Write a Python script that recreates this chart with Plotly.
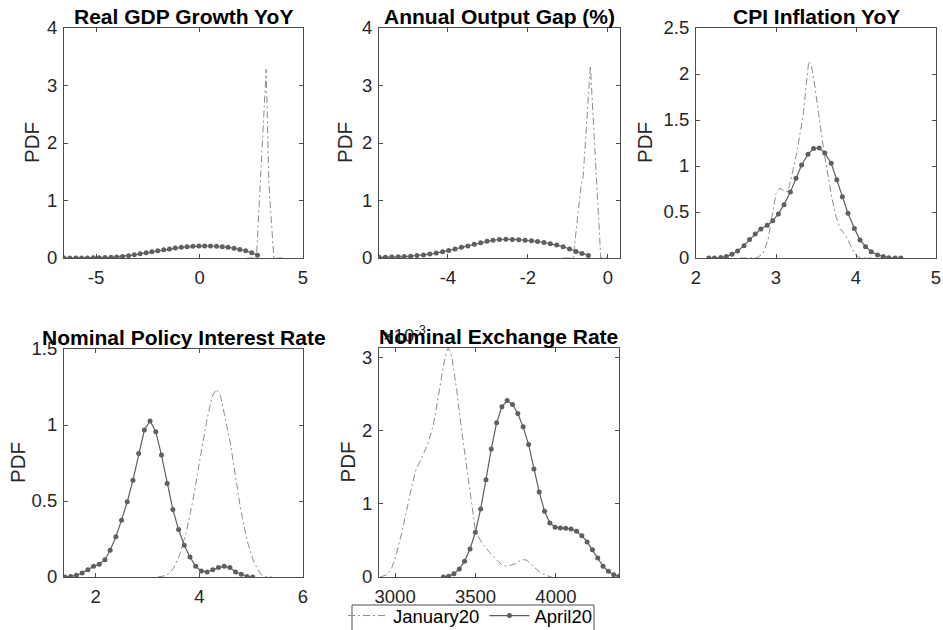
import plotly.graph_objects as go

# ---------------- data: kernel density estimates ----------------
# Real GDP growth YoY
gdp_x_apr = [-6.55, -6.27, -5.98, -5.70, -5.42, -5.13, -4.85, -4.57, -4.28, -4.00, -3.72, -3.43,
             -3.15, -2.87, -2.58, -2.30, -2.02, -1.73, -1.45, -1.17, -0.88, -0.60, -0.32, -0.03,
             0.25, 0.53, 0.82, 1.10, 1.38, 1.67, 1.95, 2.23, 2.52, 2.80]
gdp_y_apr = [0.0, 0.0, 0.0, 0.0, 0.0, 0.003, 0.005, 0.008, 0.012, 0.018, 0.028, 0.040,
             0.055, 0.073, 0.090, 0.108, 0.125, 0.143, 0.158, 0.172, 0.185, 0.195, 0.203, 0.208,
             0.210, 0.209, 0.205, 0.197, 0.186, 0.170, 0.150, 0.125, 0.092, 0.050]
gdp_x_jan = [2.30, 2.75, 3.22, 3.35, 3.59, 4.00]
gdp_y_jan = [0.0, 0.0, 3.28, 1.30, 0.0, 0.0]

# Annual output gap (%)
og_x_apr = [-5.72, -5.56, -5.40, -5.24, -5.09, -4.93, -4.77, -4.61, -4.45, -4.29, -4.13, -3.98,
            -3.82, -3.66, -3.50, -3.34, -3.18, -3.02, -2.87, -2.71, -2.55, -2.39, -2.23, -2.07,
            -1.91, -1.76, -1.60, -1.44, -1.28, -1.12, -0.96, -0.80, -0.65, -0.49]
og_y_apr = [0.012, 0.013, 0.016, 0.020, 0.025, 0.032, 0.042, 0.054, 0.068, 0.085, 0.107, 0.130,
            0.157, 0.185, 0.210, 0.240, 0.265, 0.290, 0.310, 0.322, 0.325, 0.323, 0.318, 0.310,
            0.300, 0.287, 0.270, 0.250, 0.225, 0.195, 0.155, 0.115, 0.080, 0.045]
og_x_jan = [-1.12, -0.87, -0.67, -0.62, -0.44, -0.18, 0.05]
og_y_jan = [0.0, 0.0, 1.27, 1.42, 3.34, 0.0, 0.0]

# CPI inflation YoY
cpi_x_apr = [2.16, 2.23, 2.31, 2.38, 2.45, 2.52, 2.60, 2.67, 2.74, 2.81, 2.89, 2.96,
             3.03, 3.10, 3.18, 3.25, 3.32, 3.40, 3.47, 3.54, 3.61, 3.69, 3.76, 3.83,
             3.90, 3.98, 4.05, 4.12, 4.19, 4.27, 4.34, 4.41, 4.49, 4.56]
cpi_y_apr = [0.0, 0.0, 0.005, 0.015, 0.040, 0.076, 0.134, 0.200, 0.261, 0.315, 0.355, 0.406,
             0.478, 0.580, 0.717, 0.866, 1.011, 1.127, 1.190, 1.195, 1.140, 1.030, 0.850, 0.667,
             0.486, 0.322, 0.196, 0.123, 0.069, 0.033, 0.015, 0.004, 0.0, 0.0]
cpi_x_jan = [2.55, 2.76, 2.84, 2.90, 2.95, 3.00, 3.05, 3.10, 3.15, 3.20, 3.26, 3.30, 3.34, 3.38,
             3.41, 3.44, 3.48, 3.52, 3.56, 3.60, 3.65, 3.70, 3.75, 3.80, 3.85, 3.90, 3.95, 4.00,
             4.05, 4.20]
cpi_y_jan = [0.0, 0.0, 0.05, 0.20, 0.45, 0.70, 0.76, 0.73, 0.72, 0.90, 1.14, 1.35, 1.55, 1.90,
             2.14, 2.10, 1.90, 1.65, 1.40, 1.15, 0.90, 0.65, 0.45, 0.32, 0.27, 0.20, 0.10, 0.03,
             0.0, 0.0]

# Nominal policy interest rate
pol_x_apr = [1.41, 1.52, 1.63, 1.74, 1.85, 1.96, 2.07, 2.18, 2.28, 2.39, 2.50, 2.61,
             2.72, 2.83, 2.94, 3.05, 3.16, 3.27, 3.38, 3.49, 3.60, 3.71, 3.82, 3.93,
             4.04, 4.15, 4.26, 4.37, 4.48, 4.59, 4.70, 4.81, 4.92, 5.03]
pol_y_apr = [0.0, 0.004, 0.011, 0.026, 0.048, 0.070, 0.084, 0.114, 0.176, 0.264, 0.374, 0.495,
             0.637, 0.813, 0.967, 1.026, 0.956, 0.802, 0.615, 0.444, 0.312, 0.209, 0.132, 0.070,
             0.040, 0.033, 0.048, 0.062, 0.070, 0.062, 0.033, 0.018, 0.004, 0.0]
pol_x_jan = [3.20, 3.37, 3.50, 3.63, 3.76, 3.89, 4.02, 4.15, 4.25, 4.33, 4.41, 4.50, 4.60,
             4.70, 4.79, 4.92, 5.05, 5.18, 5.31, 5.40]
pol_y_jan = [0.0, 0.01, 0.055, 0.154, 0.31, 0.53, 0.79, 1.04, 1.19, 1.235, 1.19, 1.05, 0.88,
             0.66, 0.46, 0.24, 0.10, 0.02, 0.0, 0.0]

# Nominal exchange rate
fx_x_apr = [3300, 3333, 3366, 3399, 3432, 3466, 3499, 3532, 3565, 3598, 3631, 3664,
            3697, 3730, 3763, 3796, 3830, 3863, 3896, 3929, 3962, 3995, 4028, 4061,
            4094, 4128, 4161, 4194, 4227, 4260, 4293, 4326, 4359, 4392]
fx_y_apr = [0.0, 0.000009, 0.000046, 0.000109, 0.000214, 0.000383, 0.000611, 0.000930,
            0.001330, 0.001750, 0.002107, 0.002326, 0.002412, 0.002357, 0.002234, 0.002052,
            0.001810, 0.001477, 0.001163, 0.000898, 0.000739, 0.000679, 0.000670, 0.000666,
            0.000657, 0.000625, 0.000565, 0.000479, 0.000374, 0.000260, 0.000146, 0.000078,
            0.000032, 0.000009]
fx_x_jan = [2907, 2948, 2979, 3010, 3041, 3072, 3104, 3130, 3166, 3207, 3238, 3269, 3300, 3321,
            3331, 3352, 3383, 3414, 3445, 3476, 3500, 3538, 3590, 3642, 3673, 3704, 3745, 3787,
            3818, 3859, 3900, 3942, 3973]
fx_y_jan = [0.0, 0.00003, 0.00012, 0.00033, 0.00060, 0.00094, 0.00124, 0.00147, 0.00163,
            0.00184, 0.00208, 0.00247, 0.00288, 0.00309, 0.00313, 0.00302, 0.00256, 0.00200,
            0.00147, 0.00101, 0.00062, 0.00047, 0.00033, 0.00021, 0.000155, 0.00015, 0.00018,
            0.00024, 0.00023, 0.000146, 0.000064, 0.00002, 0.0]

titles = ["Real GDP Growth YoY", "Annual Output Gap (%)", "CPI Inflation YoY",
          "Nominal Policy Interest Rate", "Nominal Exchange Rate"]
series_names = ["January20", "April20"]

x_ranges = [[-6.55, 5], [-5.72, 0.3], [2, 5], [1.39, 6], [2900, 4392]]
y_ranges = [[0, 4], [0, 4], [0, 2.5], [0, 1.5], [0, 0.00313]]
x_ticks = [[-5, 0, 5], [-4, -2, 0], [2, 3, 4, 5], [2, 4, 6], [3000, 3500, 4000]]
x_ticktext = [["-5", "0", "5"], ["-4", "-2", "0"], ["2", "3", "4", "5"], ["2", "4", "6"],
              ["3000", "3500", "4000"]]
y_ticks = [[0, 1, 2, 3, 4], [0, 1, 2, 3, 4], [0, 0.5, 1, 1.5, 2, 2.5], [0, 0.5, 1, 1.5],
           [0, 0.001, 0.002, 0.003]]
y_ticktext = [["0", "1", "2", "3", "4"], ["0", "1", "2", "3", "4"],
              ["0", "0.5", "1", "1.5", "2", "2.5"], ["0", "0.5", "1", "1.5"],
              ["0", "1", "2", "3"]]

panels = [
    (gdp_x_jan, gdp_y_jan, gdp_x_apr, gdp_y_apr),
    (og_x_jan, og_y_jan, og_x_apr, og_y_apr),
    (cpi_x_jan, cpi_y_jan, cpi_x_apr, cpi_y_apr),
    (pol_x_jan, pol_y_jan, pol_x_apr, pol_y_apr),
    (fx_x_jan, fx_y_jan, fx_x_apr, fx_y_apr),
]

# ---------------- layout geometry (pixels) ----------------
W, H = 943, 630
boxes = [  # left, right, top, bottom
    (64, 303, 28, 258),
    (379, 620, 28, 258),
    (696, 936, 28, 258),
    (64, 303, 349, 577),
    (379, 619, 348, 577),
]
ylabel_x = [32, 345, 645, 17, 347]
legend_box = (352, 594, 605, 645)  # left, right, top, bottom

FONT = "Liberation Sans, Arial, Helvetica, sans-serif"
AX_COL = "#262626"
JAN_COL = "#8c8c8c"
APR_COL = "#5f5f5f"

fig = go.Figure()
annotations = []
layout_axes = {}

for i, (xj, yj, xa, ya) in enumerate(panels):
    n = i + 1
    xa_name = "x" if n == 1 else f"x{n}"
    ya_name = "y" if n == 1 else f"y{n}"
    fig.add_trace(go.Scatter(
        x=xj, y=yj, xaxis=xa_name, yaxis=ya_name, mode="lines",
        name=series_names[0], legendgroup="jan", showlegend=(n == 1),
        line=dict(color=JAN_COL, width=1, dash="7px,3px,2px,3px"),
    ))
    fig.add_trace(go.Scatter(
        x=xa, y=ya, xaxis=xa_name, yaxis=ya_name, mode="lines+markers",
        name=series_names[1], legendgroup="apr", showlegend=(n == 1),
        line=dict(color=APR_COL, width=1.2),
        marker=dict(symbol="circle", size=5, color=APR_COL),
    ))

    l, r, t, b = boxes[i]
    xd = [l / W, r / W]
    yd = [1 - b / H, 1 - t / H]
    common = dict(
        showline=True, linecolor="#4d4d4d", linewidth=1, mirror="allticks",
        ticks="inside", ticklen=4, tickcolor="#4d4d4d", showgrid=False, zeroline=False,
        tickfont=dict(family=FONT, size=18.5, color=AX_COL),
    )
    layout_axes[f"xaxis{'' if n == 1 else n}"] = dict(
        domain=xd, range=x_ranges[i], tickvals=x_ticks[i], ticktext=x_ticktext[i],
        anchor=ya_name, ticklabelstandoff=3, **common)
    layout_axes[f"yaxis{'' if n == 1 else n}"] = dict(
        domain=yd, range=y_ranges[i], tickvals=y_ticks[i], ticktext=y_ticktext[i],
        anchor=xa_name, ticklabelstandoff=2, **common)

    if n == 5:
        annotations.append(dict(
            text="×10<sup>-3</sup>", xref="paper", yref="paper", x=l / W, y=1 - t / H,
            xanchor="left", yanchor="bottom", showarrow=False, xshift=2,
            font=dict(family=FONT, size=18.5, color=AX_COL)))
    annotations.append(dict(
        text=f"<b>{titles[i]}</b>", xref="paper", yref="paper", x=(l + r) / 2 / W,
        y=1 - t / H, xanchor="center", yanchor="bottom", showarrow=False, yshift=-2,
        font=dict(family=FONT, size=21, color="#000000")))
    annotations.append(dict(
        text="PDF", xref="paper", yref="paper", x=ylabel_x[i] / W, y=1 - (t + b) / 2 / H,
        xanchor="center", yanchor="middle", textangle=-90, showarrow=False,
        font=dict(family=FONT, size=20.5, color=AX_COL)))

# legend frame drawn as a shape so the entries can sit close to its top edge
lb_l, lb_r, lb_t, lb_b = legend_box
shapes = [dict(type="rect", xref="paper", yref="paper",
               x0=lb_l / W, x1=lb_r / W, y0=1 - lb_b / H, y1=1 - lb_t / H,
               line=dict(color="#4d4d4d", width=1), fillcolor="white", layer="below")]

fig.update_layout(
    width=W, height=H,
    margin=dict(l=0, r=0, t=0, b=0, autoexpand=False),
    paper_bgcolor="white", plot_bgcolor="white",
    font=dict(family=FONT, color=AX_COL),
    annotations=annotations,
    shapes=shapes,
    legend=dict(
        orientation="h", x=(lb_l + lb_r - 6) / 2 / W, xanchor="center", y=1 - 597 / H,
        yanchor="top", bgcolor="rgba(0,0,0,0)", borderwidth=0,
        font=dict(family=FONT, size=18.5, color="#000000"),
        itemwidth=40, tracegroupgap=0,
    ),
    **layout_axes,
)

fig.write_html("out.html")
